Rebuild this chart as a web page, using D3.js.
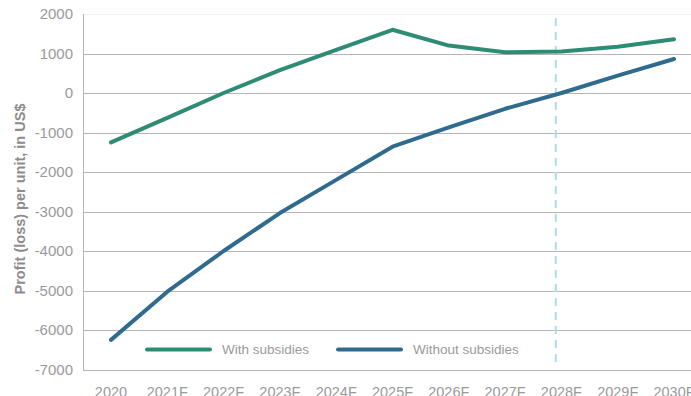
<!DOCTYPE html>
<html>
<head>
<meta charset="utf-8">
<script src="https://cdn.jsdelivr.net/npm/d3@7"></script>
<style>
  body { margin: 0; background: #fff; overflow: hidden; }
  text { font-family: "Liberation Sans", Arial, sans-serif; }
</style>
</head>
<body>
<div id="container"></div>
<script>
/* global d3*/

const width = 691;
const height = 396;

// data
const years = ["2020", "2021F", "2022F", "2023F", "2024F", "2025F", "2026F", "2027F", "2028F", "2029F", "2030F"];
const withSubsidies = [-1250, -630, 0, 580, 1090, 1600, 1200, 1030, 1050, 1170, 1360];
const withoutSubsidies = [-6250, -5030, -4000, -3040, -2200, -1360, -870, -400, 0, 440, 860];
const yTicks = [2000, 1000, 0, -1000, -2000, -3000, -4000, -5000, -6000, -7000];
const seriesNames = ["With subsidies", "Without subsidies"];
const forecastMark = 7.9; // dashed line, just left of 2028F

const green = "#2e8b74";
const blue = "#2f6b8e";
const textGrey = "#9a9a9a";

const svg = d3
  .select("#container")
  .append("svg")
  .attr("width", width)
  .attr("height", height);

const xScale = d3.scaleLinear([0, years.length - 1], [111, 674]);
const yScale = d3.scaleLinear([-7000, 2000], [369.5, 14]);

// gridlines
svg
  .append("g")
  .selectAll("line")
  .data(yTicks)
  .enter()
  .append("line")
  .attr("x1", 83)
  .attr("x2", width)
  .attr("y1", (d) => Math.round(yScale(d)) + 0.5)
  .attr("y2", (d) => Math.round(yScale(d)) + 0.5)
  .attr("stroke", (d) => (d === 2000 ? "#f2f2f2" : "#b5b5b5"))
  .attr("stroke-width", 1);

// y axis line
svg
  .append("line")
  .attr("x1", 83.5)
  .attr("x2", 83.5)
  .attr("y1", yScale(2000))
  .attr("y2", yScale(-7000) + 0.5)
  .attr("stroke", "#b5b5b5");

// y tick labels
svg
  .append("g")
  .selectAll("text")
  .data(yTicks)
  .enter()
  .append("text")
  .attr("x", 73)
  .attr("y", (d) => yScale(d) + 5)
  .attr("text-anchor", "end")
  .attr("fill", textGrey)
  .attr("font-size", 15)
  .text((d) => d);

// x tick labels (bottom is clipped by the frame, as in the original)
svg
  .append("g")
  .selectAll("text")
  .data(years)
  .enter()
  .append("text")
  .attr("x", (d, i) => xScale(i))
  .attr("y", 397)
  .attr("text-anchor", "middle")
  .attr("fill", textGrey)
  .attr("font-size", 14.5)
  .text((d) => d);

// y title
svg
  .append("text")
  .attr("transform", "translate(25,199) rotate(-90)")
  .attr("text-anchor", "middle")
  .attr("fill", "#8c8c8c")
  .attr("font-size", 14.5)
  .attr("font-weight", "bold")
  .text("Profit (loss) per unit, in US$");

// forecast marker
svg
  .append("line")
  .attr("x1", xScale(forecastMark))
  .attr("x2", xScale(forecastMark))
  .attr("y1", 18)
  .attr("y2", 364)
  .attr("stroke", "#a9dde8")
  .attr("stroke-width", 2)
  .attr("stroke-dasharray", "8,6");

const line = d3
  .line()
  .x((d, i) => xScale(i))
  .y((d) => yScale(d));

[[withSubsidies, green], [withoutSubsidies, blue]].forEach(([vals, color]) => {
  svg
    .append("path")
    .attr("d", line(vals))
    .attr("fill", "none")
    .attr("stroke", color)
    .attr("stroke-width", 4)
    .attr("stroke-linecap", "round")
    .attr("stroke-linejoin", "round");
});

// legend
const legend = svg.append("g").attr("id", "legend");
const legendItems = [
  { name: seriesNames[0], color: green, x: 147 },
  { name: seriesNames[1], color: blue, x: 338 }
];
legendItems.forEach((item) => {
  legend
    .append("line")
    .attr("x1", item.x)
    .attr("x2", item.x + 63)
    .attr("y1", 349.5)
    .attr("y2", 349.5)
    .attr("stroke", item.color)
    .attr("stroke-width", 4)
    .attr("stroke-linecap", "round");
  legend
    .append("text")
    .attr("x", item.x + 75)
    .attr("y", 354)
    .attr("fill", textGrey)
    .attr("font-size", 13.5)
    .text(item.name);
});
</script>
</body>
</html>
